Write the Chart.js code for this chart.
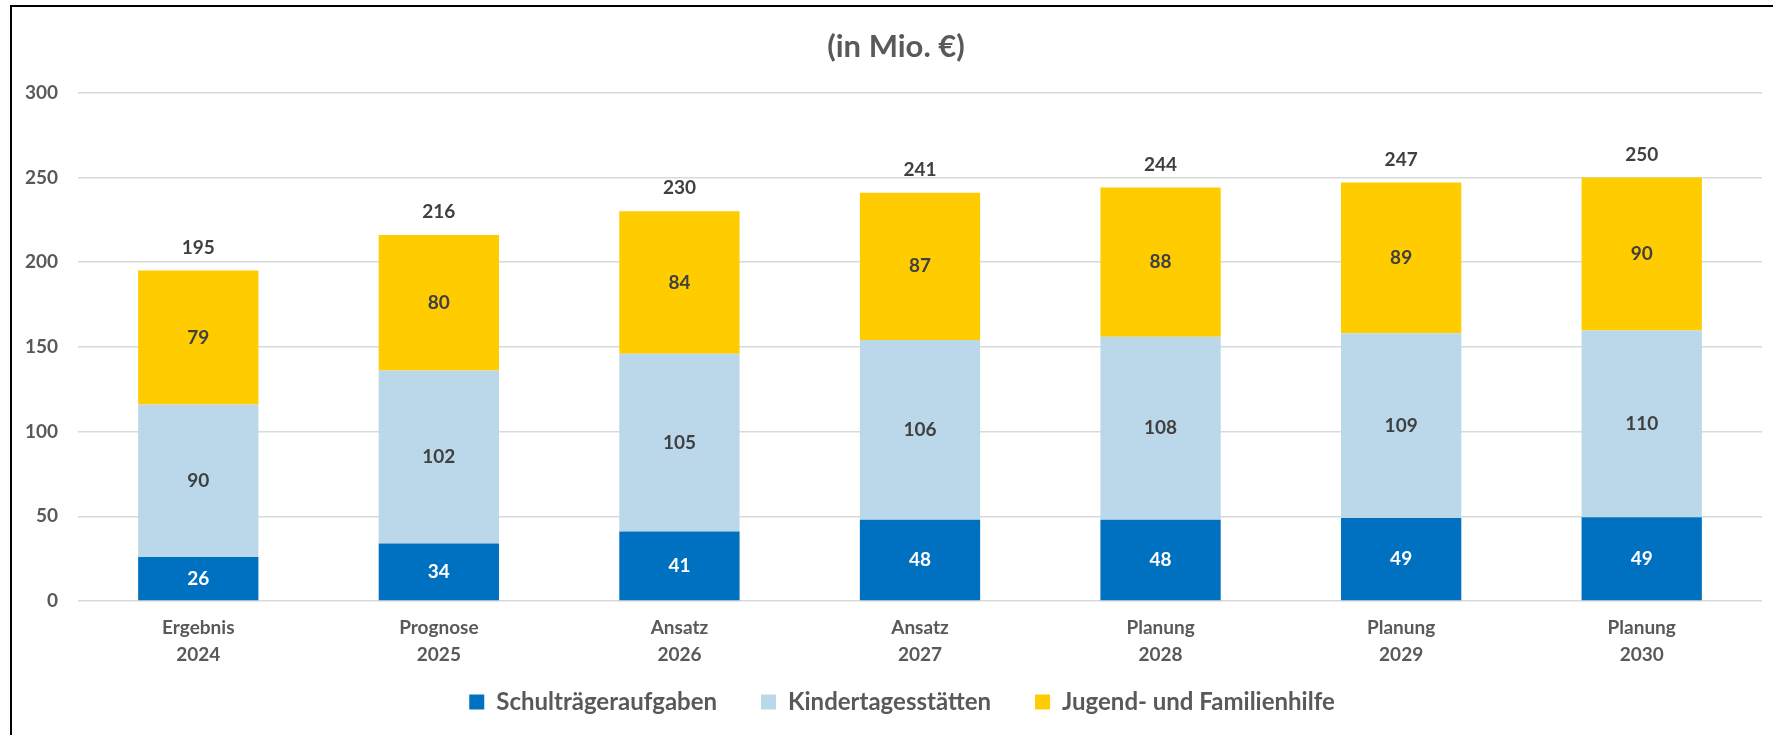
<!DOCTYPE html>
<html lang="de">
<head>
<meta charset="utf-8">
<title>in Mio. €</title>
<script src="https://cdn.jsdelivr.net/npm/chart.js@4.4.1/dist/chart.umd.min.js"></script>
<style>
  html, body { margin: 0; padding: 0; background: #fff; overflow: hidden; width: 1773px; height: 735px; }
  #frame { position: absolute; left: 10px; top: 5px; width: 1774px; height: 800px; border: 2px solid #000; border-right: none; border-bottom: none; }
  #chartCanvas { display: block; }
</style>
</head>
<body>
<div id="frame"><canvas id="chartCanvas" width="1774" height="739"></canvas></div>
<script>
const categories = [
  ['Ergebnis', '2024'],
  ['Prognose', '2025'],
  ['Ansatz', '2026'],
  ['Ansatz', '2027'],
  ['Planung', '2028'],
  ['Planung', '2029'],
  ['Planung', '2030'],
];
const schultraeger = [26, 34, 41, 48, 48, 49, 49.4];
const kitas = [90, 102, 105, 106, 108, 109, 110.3];
const jugendhilfe = [79, 80, 84, 87, 88, 89, 90.3];
const yTicks = [0, 50, 100, 150, 200, 250, 300];

const FONT = 'Lato, "Open Sans", "Liberation Sans", sans-serif';
const AXIS_GREY = '#595959';
const LABEL_DARK = '#404040';

// Zahlen in den Segmenten + Summe über dem Stapel
const stackLabels = {
  id: 'stackLabels',
  afterDatasetsDraw(chart) {
    const { ctx } = chart;
    ctx.save();
    ctx.font = `bold 19px ${FONT}`;
    ctx.textAlign = 'center';
    ctx.textBaseline = 'middle';
    chart.data.datasets.forEach((ds, di) => {
      const meta = chart.getDatasetMeta(di);
      meta.data.forEach((bar, i) => {
        ctx.fillStyle = di === 0 ? '#ffffff' : LABEL_DARK;
        ctx.fillText(String(Math.round(ds.data[i])), bar.x, (bar.y + bar.base) / 2);
      });
    });
    const y = chart.scales.y;
    const topMeta = chart.getDatasetMeta(chart.data.datasets.length - 1);
    ctx.fillStyle = LABEL_DARK;
    categories.forEach((c, i) => {
      const total = chart.data.datasets.reduce((s, ds) => s + ds.data[i], 0);
      ctx.fillText(String(Math.round(total)), topMeta.data[i].x, y.getPixelForValue(total) - 23);
    });
    ctx.restore();
  },
};

// Legende und Titel etwas verschieben (wie im Excel-Original)
const boxNudge = {
  id: 'boxNudge',
  afterLayout(chart) {
    const lg = chart.legend;
    if (lg) {
      lg.top -= 22; lg.bottom -= 22;
      lg.left += 15; lg.right += 15;
    }
    const tb = chart.titleBlock;
    if (tb) { tb.left += 9; tb.right += 9; }
  },
};

new Chart(document.getElementById('chartCanvas').getContext('2d'), {
  type: 'bar',
  data: {
    labels: categories,
    datasets: [
      { label: 'Schulträgeraufgaben', data: schultraeger, backgroundColor: '#0070C0' },
      { label: 'Kindertagesstätten', data: kitas, backgroundColor: '#BAD8EA' },
      { label: 'Jugend- und Familienhilfe', data: jugendhilfe, backgroundColor: '#FFCC00' },
    ],
  },
  options: {
    responsive: false,
    animation: false,
    devicePixelRatio: 1,
    categoryPercentage: 1,
    barPercentage: 0.5,
    layout: { padding: { top: 0, left: 0, right: 24, bottom: 0 } },
    plugins: {
      tooltip: { enabled: false },
      title: {
        display: true,
        text: '(in Mio. €)',
        color: AXIS_GREY,
        font: { family: FONT, size: 31, weight: 'bold', lineHeight: 1.2 },
        padding: { top: 21.4, bottom: 27.1 },
      },
      legend: {
        position: 'bottom',
        labels: {
          color: AXIS_GREY,
          font: { family: FONT, size: 24, weight: 'bold' },
          boxWidth: 15,
          boxHeight: 15,
          padding: 44,
        },
      },
    },
    scales: {
      x: {
        stacked: true,
        grid: { display: false, drawTicks: false },
        border: { display: false },
        ticks: {
          color: AXIS_GREY,
          font: { family: FONT, size: 19, weight: 'bold', lineHeight: 1.42 },
          padding: 13,
          maxRotation: 0,
        },
        afterFit(scale) { scale.height = 67; },
      },
      y: {
        stacked: true,
        min: 0,
        max: 300,
        grid: { color: '#d9d9d9', lineWidth: 1.5, drawTicks: false },
        border: { display: false },
        afterBuildTicks(scale) { scale.ticks = yTicks.map(v => ({ value: v })); },
        ticks: {
          color: AXIS_GREY,
          font: { family: FONT, size: 19, weight: 'bold' },
          padding: 20,
        },
        afterFit(scale) { scale.width = 66; },
      },
    },
  },
  plugins: [stackLabels, boxNudge],
});
</script>
</body>
</html>
